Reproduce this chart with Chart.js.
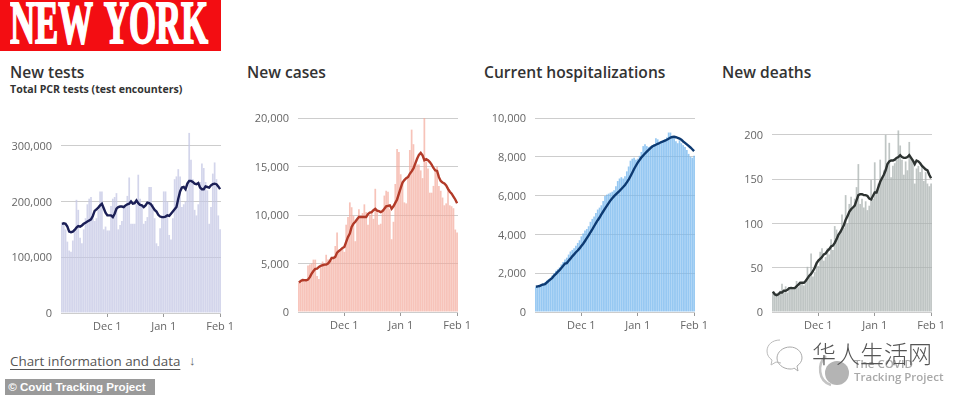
<!DOCTYPE html>
<html lang="en">
<head>
<meta charset="utf-8">
<title>New York</title>
<style>
  html, body { margin: 0; padding: 0; background: #fff; overflow: hidden; }
  body { position: relative; width: 962px; height: 395px; font-family: "Open Sans", sans-serif; }
  canvas { position: absolute; }
  .abs { position: absolute; white-space: nowrap; }
  #banner { left: 0; top: 0; width: 221px; height: 51px; background: #f30d12; overflow: hidden; }
  #bannerText { left: 10px; top: -12px; font: bold 61px "Liberation Serif", serif; word-spacing: 7px; color: #fff; -webkit-text-stroke: 2px #fff; transform-origin: 0 0; transform: scaleX(0.57); }
  .title { font-size: 15.6px; font-weight: 600; color: #333; top: 61px; }
  #sub { left: 10px; top: 82px; font-size: 10.6px; font-weight: 700; color: #333; }
  #info { left: 10px; top: 352px; font-size: 13.4px; color: #555; text-decoration: underline; text-underline-offset: 3px; text-decoration-thickness: 1px; }
  #arrow { left: 189px; top: 351px; font-size: 13px; color: #666; }
  #credit { left: 5px; top: 379px; width: 150px; height: 16px; background: #9a9a9a; color: #fff; font: bold 11.6px/16px "Liberation Sans", sans-serif; }
  #wm { left: 812px; top: 335px; font: 300 24px "Noto Sans CJK SC", sans-serif; color: #555; }
  #ctp { left: 854px; top: 357px; font: 600 11.5px/13px "Open Sans", sans-serif; color: #a9a9a9; }
</style>
</head>
<body>
<div class="abs" id="banner"><div class="abs" id="bannerText">NEW YORK</div></div>
<div class="abs title" style="left:10px">New tests</div>
<div class="abs" id="sub">Total PCR tests (test encounters)</div>
<div class="abs title" style="left:247px">New cases</div>
<div class="abs title" style="left:484px">Current hospitalizations</div>
<div class="abs title" style="left:722px">New deaths</div>

<canvas id="tests"></canvas>
<canvas id="cases"></canvas>
<canvas id="hosp"></canvas>
<canvas id="deaths"></canvas>

<div class="abs" id="info">Chart information and data</div>
<div class="abs" id="arrow">↓</div>
<div class="abs" id="credit">&nbsp;© Covid Tracking Project</div>

<!-- watermark -->
<svg class="abs" style="left:764px;top:334px" width="130" height="60" fill="none">
  <path d="M16 6c-8 0-13 5-13 11 0 4 2 7 5 9l-1 5 5-3c2 0 3 1 5 1" stroke="#bbb" stroke-width="1"/>
  <path d="M26 13c-7 0-13 5-13 11s6 11 13 11c2 0 3 0 4-1l4 3-1-5c3-2 5-5 5-8 0-6-5-11-12-11z" stroke="#aaa" stroke-width="1"/>
  <circle cx="73" cy="39" r="12" fill="#b4b4b4"/>
  <path d="M62 22c-9 8-8 25 5 29" stroke="#c4c4c4" stroke-width="2.5"/>
</svg>
<div class="abs" id="ctp">The COVID<br>Tracking Project</div>
<div class="abs" id="wm">华人生活网</div>

<script src="https://cdn.jsdelivr.net/npm/chart.js@4"></script>
<script>
const days = [
  'Nov 6','Nov 7','Nov 8','Nov 9','Nov 10','Nov 11','Nov 12','Nov 13','Nov 14','Nov 15','Nov 16','Nov 17','Nov 18','Nov 19','Nov 20','Nov 21','Nov 22','Nov 23','Nov 24','Nov 25','Nov 26','Nov 27','Nov 28','Nov 29','Nov 30',
  'Dec 1','Dec 2','Dec 3','Dec 4','Dec 5','Dec 6','Dec 7','Dec 8','Dec 9','Dec 10','Dec 11','Dec 12','Dec 13','Dec 14','Dec 15','Dec 16','Dec 17','Dec 18','Dec 19','Dec 20','Dec 21','Dec 22','Dec 23','Dec 24','Dec 25','Dec 26','Dec 27','Dec 28','Dec 29','Dec 30','Dec 31',
  'Jan 1','Jan 2','Jan 3','Jan 4','Jan 5','Jan 6','Jan 7','Jan 8','Jan 9','Jan 10','Jan 11','Jan 12','Jan 13','Jan 14','Jan 15','Jan 16','Jan 17','Jan 18','Jan 19','Jan 20','Jan 21','Jan 22','Jan 23','Jan 24','Jan 25','Jan 26','Jan 27','Jan 28','Jan 29','Jan 30','Jan 31',
  'Feb 1'];
const xLabels = ['Dec 1', 'Jan 1', 'Feb 1'];

// daily values
const testsDaily = [160000,162000,150000,128000,112000,110000,130000,150000,203000,185000,135000,125000,150000,170000,195000,205000,208000,175000,165000,170000,185000,218000,218000,150000,155000,148000,148000,192000,205000,208000,215000,150000,158000,165000,192000,190000,210000,243000,160000,160000,160000,195000,248000,205000,192000,160000,165000,172000,226000,226000,195000,170000,125000,120000,152000,175000,218000,218000,200000,140000,132000,170000,240000,245000,258000,245000,190000,195000,200000,220000,323000,275000,240000,185000,175000,195000,235000,268000,260000,235000,220000,160000,190000,250000,270000,240000,175000,150000];
const testsAvg = [160000,161000,160000,155000,146000,145000,146000,149000,153000,156000,155000,157000,160000,162000,164000,166000,168000,174000,183000,186000,189000,193000,196000,188000,180000,175000,175000,175000,172000,178000,187000,190000,191000,191000,190000,193000,195000,196000,200000,196000,197000,202000,197000,194000,193000,190000,193000,198000,197000,195000,190000,185000,182000,176000,173000,172000,172000,173000,175000,174000,178000,182000,186000,190000,205000,218000,225000,226000,222000,232000,237000,237000,235000,232000,231000,233000,225000,222000,222000,227000,226000,225000,229000,231000,232000,231000,227000,222000];
const testsTicks = [0, 100000, 200000, 300000];

const casesDaily = [3000,3200,3300,3100,3400,4800,4900,5000,5400,5400,3700,3400,4600,5200,5000,5900,5400,5400,5300,5700,6800,8200,6400,6300,6500,6200,9000,9800,11300,10800,9900,7300,9600,10600,9800,10200,11100,10300,9000,10000,10300,9600,12700,10400,9000,9100,10600,12000,12500,12400,10600,7500,9300,13200,16800,16500,14200,13500,11300,11200,13800,16700,18800,17300,15000,15200,15200,14600,13800,20000,15500,14800,12300,12300,13000,14500,15000,13000,12500,11800,11000,11200,12800,11000,10900,10700,8500,8200];
const casesAvg = [3030,3200,3300,3270,3270,3340,3600,3950,4230,4440,4470,4650,4750,4820,4880,4880,5000,5230,5570,5570,5680,6120,6300,6430,6600,6700,7220,7740,8080,8770,9100,9300,9560,9800,9800,9800,9800,9800,10100,10250,10300,10500,10630,10450,10400,10300,10400,10650,10900,10950,11000,10650,10900,11250,11600,12200,12800,13350,13600,13800,13900,14250,14500,14800,15300,15800,16200,16400,16150,15650,15750,15650,15450,15200,14850,14600,14550,13900,13500,13350,13250,13050,12700,12400,12200,11900,11600,11200];
const casesTicks = [0, 5000, 10000, 15000, 20000];

const hospDaily = [1300,1310,1330,1390,1450,1530,1620,1700,1760,1880,2000,2130,2210,2300,2450,2580,2700,2800,2960,3120,3200,3280,3420,3560,3700,3900,4050,4200,4280,4420,4650,4800,4920,5100,5280,5380,5500,5720,5980,6050,6100,6150,6200,6280,6480,6750,6880,6950,6880,7000,7250,7500,7800,7900,7950,7850,7900,8050,8250,8550,8650,8550,8500,8550,8600,8650,8950,8900,8750,8800,8850,8900,9000,9250,9250,9000,8950,8800,8700,8850,8700,8600,8500,8350,8150,8000,7950,8050];
const hospAvg = [1300,1320,1340,1380,1420,1440,1520,1600,1680,1760,1880,1970,2070,2160,2270,2380,2500,2520,2640,2750,2870,2970,3080,3170,3280,3400,3520,3660,3810,3950,4110,4260,4420,4580,4730,4870,5030,5180,5330,5470,5610,5750,5860,5970,6060,6150,6240,6340,6440,6550,6680,6820,7000,7180,7370,7540,7700,7830,7960,8070,8170,8270,8360,8450,8530,8580,8620,8670,8710,8760,8790,8830,8880,8930,8990,9020,9030,9010,8980,8940,8880,8790,8720,8640,8560,8480,8390,8290];
const hospTicks = [0, 2000, 4000, 6000, 8000, 10000];

const deathsDaily = [23,20,18,22,24,32,24,29,22,28,29,26,27,35,28,33,32,30,36,51,42,66,40,45,57,52,68,72,58,62,72,65,82,70,97,93,85,88,110,95,132,100,122,130,118,128,141,167,122,128,118,125,115,120,149,128,169,135,145,172,150,160,200,165,191,152,165,168,172,205,188,172,155,170,160,192,175,172,145,162,165,158,165,148,158,145,142,145];
const deathsAvg = [23,20,19,20,22,22,24,24,25,27,27,27,27,29,31,33,33,33,35,38,41,43,46,50,55,58,60,62,65,66,69,71,74,75,78,82,87,90,94,98,104,108,113,116,118,120,126,132,133,133,132,132,131,128,127,131,135,135,141,147,151,155,160,167,170,171,171,172,174,175,177,175,174,174,175,177,174,171,167,171,170,168,165,163,161,160,155,151];
const deathsTicks = [0, 50, 100, 150, 200];

const AXIS_W = 56, AXIS_H = 24, PAD_TOP = 12, PAD_RIGHT = 30;

function drawPanel(id, daily, avg, yTicks, yMax, barColor, lineColor, left, top, w, h) {
  const el = document.getElementById(id);
  el.width = AXIS_W + w + PAD_RIGHT;
  el.height = PAD_TOP + h + AXIS_H;
  el.style.left = (left - AXIS_W) + 'px';
  el.style.top = (top - PAD_TOP) + 'px';

  new Chart(el, {
    type: 'bar',
    data: {
      labels: days,
      datasets: [
        { type: 'line', data: avg, borderColor: lineColor, borderWidth: 2.4, pointRadius: 0, tension: 0, order: 0 },
        { data: daily, backgroundColor: barColor, barPercentage: 0.94, categoryPercentage: 1, order: 1 }
      ]
    },
    options: {
      responsive: false,
      animation: false,
      layout: { autoPadding: false, padding: { top: PAD_TOP, right: PAD_RIGHT, left: 0, bottom: 0 } },
      plugins: { legend: { display: false }, tooltip: { enabled: false } },
      scales: {
        x: {
          border: { display: false },
          afterFit: s => { s.height = AXIS_H; s.paddingLeft = 0; s.paddingRight = 0; },
          grid: {
            offset: false,
            drawOnChartArea: false,
            tickLength: 4,
            tickColor: c => (xLabels.includes(days[c.index]) ? '#999' : 'transparent')
          },
          ticks: {
            autoSkip: false, maxRotation: 0, padding: 3,
            color: '#666', font: { family: '"Open Sans"', size: 11 },
            callback: function (v) { const d = this.getLabelForValue(v); return xLabels.includes(d) ? d : ''; }
          }
        },
        y: {
          min: 0, max: yMax,
          border: { display: false },
          // the half label padding would squeeze the plot, so drop it
          afterFit: s => { s.width = AXIS_W; s.paddingTop = 0; s.paddingBottom = 0; },
          afterBuildTicks: s => { s.ticks = yTicks.map(v => ({ value: v })); },
          grid: { color: '#cdcdcd', lineWidth: 1, drawTicks: false },
          ticks: {
            padding: 9, labelOffset: 1,
            color: '#666', font: { family: '"Open Sans"', size: 11 },
            callback: v => v.toLocaleString('en-US')
          }
        }
      }
    }
  });
}

drawPanel('tests', testsDaily, testsAvg, testsTicks, 330000, 'rgba(196,199,228,0.75)', '#1b1f56', 61, 129, 160, 184);
drawPanel('cases', casesDaily, casesAvg, casesTicks, 20000, 'rgba(243,170,155,0.7)', '#b23a28', 298, 118, 160, 194);
drawPanel('hosp', hospDaily, hospAvg, hospTicks, 10000, 'rgba(120,184,238,0.78)', '#0d3a72', 535, 118, 160, 194);
drawPanel('deaths', deathsDaily, deathsAvg, deathsTicks, 210, 'rgba(170,178,176,0.75)', '#2d3331', 772, 126, 160, 186);
</script>
</body>
</html>
